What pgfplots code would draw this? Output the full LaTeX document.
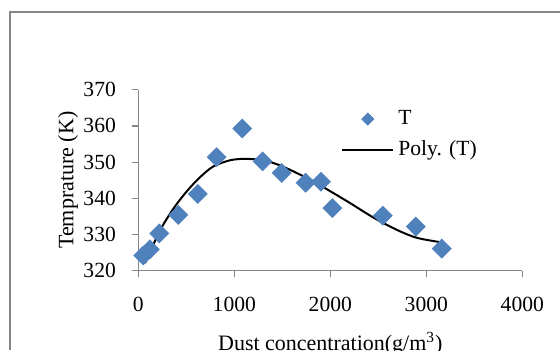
\documentclass[border=0pt]{standalone}
\usepackage{fontspec}
\setmainfont{Liberation Serif}
\usepackage{pgfplots}
\pgfplotsset{compat=1.18}
\definecolor{ser}{RGB}{79,129,189}
\definecolor{ax}{RGB}{134,134,134}
\begin{document}
\fontsize{10.5}{12.6}\selectfont
\begin{tikzpicture}
\useasboundingbox (-69.15pt,-39.65pt) rectangle (210.85pt,135.35pt);
\draw[ax, line width=0.8pt] (-64.15pt,-39.65pt) -- (-64.15pt,129.35pt) -- (210.85pt,129.35pt);
\begin{axis}[
  at={(0,0)}, anchor=south west,
  scale only axis, width=192pt, height=90.5pt,
  xmin=0, xmax=4000, ymin=320, ymax=370,
  axis x line*=bottom, axis y line*=left,
  axis line style={ax, line width=0.6pt},
  tick align=outside, major tick length=3pt,
  tick style={ax, line width=0.6pt},
  xtick={0,1000,2000,3000,4000}, ytick={320,330,...,370},
  /pgf/number format/assume math mode=true,
  /pgf/number format/set thousands separator={},
  tick label style={font=\fontsize{10.8}{12.8}\selectfont},
  xticklabel style={yshift=-6.5pt},
  yticklabel style={xshift=-4.5pt},
  xlabel={Dust concentration(g/m\textsuperscript{3})},
  ylabel={Temprature (K)},
  label style={font=\fontsize{11}{13}\selectfont},
  xlabel style={at={(axis description cs:0.5,-0.3)}, anchor=north},
  ylabel style={at={(axis description cs:-0.183,0.5)}, anchor=center},
  clip=false,
  legend cell align=left,
  legend style={at={(axis description cs:0.512,0.932)}, anchor=north west,
    draw=none, fill=none, font=\fontsize{10.8}{12.8}\selectfont, row sep=2.5pt},
]
\addplot[only marks, mark=square*, mark size=3.3pt,
  mark options={rotate=45, fill=ser, draw=ser},
  legend image code/.code={\fill[ser] (9.75pt,0pt) -- (12.75pt,3pt) -- (15.75pt,0pt) -- (12.75pt,-3pt) -- cycle;}]
coordinates {
(52,324.2) (120,325.9) (219,330.3) (417,335.4) (620,341.2) (816,351.4)
(1083,359.3) (1295,350.2) (1493,347.0) (1743,344.3) (1903,344.6) (2021,337.3)
(2547,335.2) (2891,332.2) (3161,326.1)
};
\addlegendentry{T}
\addplot[black, line width=1pt, smooth, mark=none,
  legend image code/.code={\draw[black, line width=1pt] (0pt,0pt) -- (25.5pt,0pt);}]
coordinates {
(70,322.1) (226,331.1) (365,337.1) (504,341.9) (642,345.8) (781,348.8)
(955,350.5) (1111,350.9) (1302,350.5) (1476,349.1) (1649,347.0) (1823,344.7)
(1997,342.0) (2205,338.7) (2448,334.7) (2692,331.3) (2900,329.1) (3143,327.9)
};
\addlegendentry{Poly. (T)}
\end{axis}
\end{tikzpicture}
\end{document}
